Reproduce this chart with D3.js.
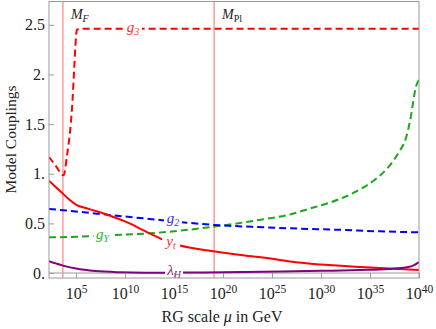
<!DOCTYPE html>
<html>
<head>
<meta charset="utf-8">
<script src="https://cdn.jsdelivr.net/npm/d3@7"></script>
<style>
body { margin: 0; background: #fff; }
svg text { font-family: "Liberation Serif", "DejaVu Serif", serif; }
</style>
</head>
<body>
<div id="chart"></div>
<script>
// log10(mu / GeV) and the couplings
var logMF = 3.66;
var logMPl = 19.09;

var g3_log = [2.24, 3.0, 3.66, 3.76, 4.07, 4.47, 4.63, 4.78, 4.93, 5.08, 5.4, 40];
var g3_val = [1.17, 1.07, 0.985, 0.99, 1.18, 1.51, 1.72, 2.0, 2.28, 2.45, 2.46, 2.46];

var g2_log = [2.24, 5, 8.4, 12.5, 16, 19, 23, 27, 32, 36, 40];
var g2_val = [0.645, 0.62, 0.585, 0.545, 0.51, 0.485, 0.465, 0.45, 0.435, 0.42, 0.41];

var gY_log = [2.24, 5, 8, 12.5, 19.3, 24, 26.7, 28.7, 31.1, 33.5, 35.5, 36.9, 37.9, 38.7, 39.1, 39.7, 40];
var gY_val = [0.36, 0.365, 0.38, 0.40, 0.47, 0.54, 0.586, 0.645, 0.716, 0.817, 0.94, 1.07, 1.21, 1.37, 1.54, 1.88, 1.95];

var yt_log = [2.24, 3.0, 3.66, 4.3, 5.08, 6, 7, 8.4, 10, 12.5, 14.7, 17, 19, 22, 25, 27.7, 30, 35, 40];
var yt_val = [0.93, 0.86, 0.80, 0.74, 0.685, 0.655, 0.625, 0.58, 0.52, 0.40, 0.30, 0.25, 0.22, 0.18, 0.145, 0.105, 0.085, 0.055, 0.03];

var lam_log = [2.24, 3.0, 3.66, 5, 7, 9.5, 12, 15, 18, 22, 26, 30, 34, 36.9, 38.9, 39.5, 40];
var lam_val = [0.12, 0.095, 0.075, 0.045, 0.02, 0.008, 0.004, 0.004, 0.006, 0.01, 0.015, 0.022, 0.03, 0.04, 0.06, 0.08, 0.11];

var xTicks = [5, 10, 15, 20, 25, 30, 35, 40];
var yTicks = [0, 0.5, 1, 1.5, 2, 2.5];

var W = 436, H = 329;
var pLeft = 49, pRight = 419, pTop = 1, pBottom = 278;

var svg = d3.select("#chart").append("svg").attr("width", W).attr("height", H);

var x = d3.scaleLinear().domain([2.24, 40]).range([pLeft, pRight]);
var y = d3.scaleLinear().domain([-0.05, 2.74]).range([pBottom, pTop]);

svg.append("clipPath").attr("id", "clip").append("rect")
	.attr("x", pLeft).attr("y", pTop).attr("width", pRight - pLeft).attr("height", pBottom - pTop);

var plot = svg.append("g").attr("clip-path", "url(#clip)");

// zero line
plot.append("line").attr("x1", pLeft).attr("x2", pRight)
	.attr("y1", y(0)).attr("y2", y(0))
	.attr("stroke", "#999").attr("stroke-width", 1);

// mass thresholds
[logMF, logMPl].forEach(function(m) {
	plot.append("line").attr("x1", x(m)).attr("x2", x(m))
		.attr("y1", pTop).attr("y2", pBottom)
		.attr("stroke", "#ff8a8a").attr("stroke-width", 1.3);
});

var line = d3.line().x(function(d) { return x(d[0]); })
	.y(function(d) { return y(d[1]); }).curve(d3.curveMonotoneX);

var series = [
	{ lx: g3_log, ly: g3_val, color: "#ff0000", dash: "7,4" },
	{ lx: gY_log, ly: gY_val, color: "#1aa81a", dash: "7,4" },
	{ lx: g2_log, ly: g2_val, color: "#0000ff", dash: "7,4" },
	{ lx: yt_log, ly: yt_val, color: "#ff0000", dash: null },
	{ lx: lam_log, ly: lam_val, color: "#800080", dash: null }
];
series.forEach(function(s) {
	var pts = s.lx.map(function(v, i) { return [v, s.ly[i]]; });
	plot.append("path").attr("d", line(pts))
		.attr("fill", "none").attr("stroke", s.color)
		.attr("stroke-width", 2)
		.attr("stroke-dasharray", s.dash);
});

// line labels, with white boxes breaking the lines
var labels = [
	{ at: 10.8, v: 2.46, main: "g", sub: "3", color: "#ff3030" },
	{ at: 14.9, v: 0.535, main: "g", sub: "2", color: "#3030ff" },
	{ at: 7.7, v: 0.375, main: "g", sub: "Y", color: "#30b030" },
	{ at: 14.7, v: 0.30, main: "y", sub: "t", color: "#ff3030" },
	{ at: 15.0, v: 0.01, main: "\u03bb", sub: "H", color: "#8a208a" }
];
labels.forEach(function(l) {
	var g = svg.append("g").attr("transform", "translate(" + x(l.at) + "," + y(l.v) + ")");
	g.append("rect").attr("x", -9).attr("y", -6).attr("width", 18).attr("height", 12).attr("fill", "#fff");
	var t = g.append("text").attr("text-anchor", "middle").attr("y", 3)
		.attr("font-size", 15).attr("font-style", "italic").attr("fill", l.color);
	t.append("tspan").text(l.main);
	t.append("tspan").attr("font-size", 10).attr("dy", 3).text(l.sub);
});

// threshold names
[{ at: logMF, main: "M", sub: "F", subItalic: true }, { at: logMPl, main: "M", sub: "Pl", subItalic: false }]
.forEach(function(m) {
	var t = svg.append("text").attr("x", x(m.at) + 8).attr("y", 19)
		.attr("font-size", 14).attr("fill", "#222");
	t.append("tspan").attr("font-style", "italic").text(m.main);
	t.append("tspan").attr("font-size", 10).attr("dy", 3)
		.attr("font-style", m.subItalic ? "italic" : "normal").text(m.sub);
});

// frame
svg.append("rect").attr("x", pLeft).attr("y", pTop + 0.5)
	.attr("width", pRight - pLeft).attr("height", pBottom - pTop - 0.5)
	.attr("fill", "none").attr("stroke", "#9a9a9a").attr("stroke-width", 1);

// axes
var xAxis = svg.append("g").attr("transform", "translate(0," + pBottom + ")")
	.call(d3.axisBottom(x).tickValues(xTicks).tickSize(-5).tickPadding(10).tickFormat(function() { return ""; }));
xAxis.select(".domain").remove();
xAxis.selectAll(".tick line").attr("stroke", "#9a9a9a");
xAxis.selectAll(".tick text").each(function(d) {
	var t = d3.select(this).attr("font-size", 16).attr("fill", "#222").attr("dy", null).attr("y", 21);
	t.append("tspan").text("10");
	t.append("tspan").attr("font-size", 11.5).attr("dy", -6).text(d);
});

var yAxis = svg.append("g").attr("transform", "translate(" + pLeft + ",0)")
	.call(d3.axisLeft(y).tickValues(yTicks).tickSize(-5).tickPadding(4)
		.tickFormat(function(d) { return d % 1 === 0 ? d + "." : String(d); }));
yAxis.select(".domain").remove();
yAxis.selectAll(".tick line").attr("stroke", "#9a9a9a");
yAxis.selectAll(".tick text").attr("font-size", 16).attr("fill", "#222")
	.attr("font-family", "Liberation Serif, serif");

// axis titles
svg.append("text").attr("transform", "translate(16," + ((pTop + pBottom) / 2) + ") rotate(-90)")
	.attr("text-anchor", "middle").attr("font-size", 15.5).attr("fill", "#222")
	.text("Model Couplings");

var xt = svg.append("text").attr("x", 222).attr("y", 322)
	.attr("text-anchor", "middle").attr("font-size", 16).attr("fill", "#222");
xt.append("tspan").text("RG scale ");
xt.append("tspan").attr("font-style", "italic").text("\u03bc");
xt.append("tspan").text(" in GeV");
</script>
</body>
</html>
